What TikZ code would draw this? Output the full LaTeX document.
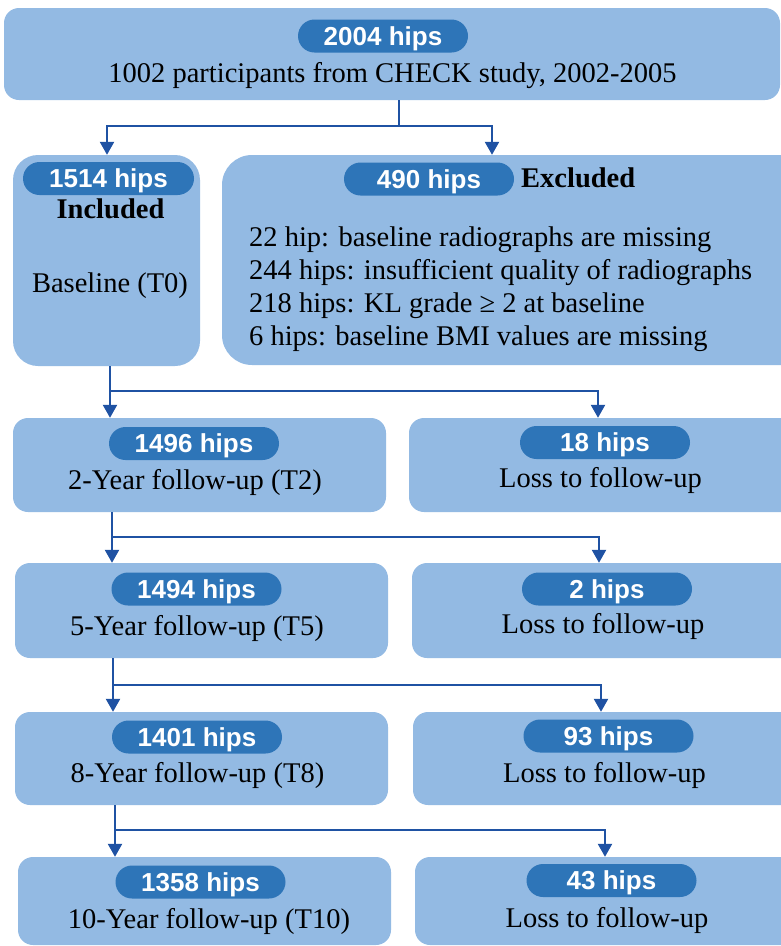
\documentclass[tikz,border=0pt]{standalone}
\usepackage{fontspec}
\setmainfont{Liberation Serif}
\setsansfont{Liberation Sans}
\usetikzlibrary{arrows.meta}

\definecolor{boxblue}{HTML}{93BAE3}
\definecolor{pillblue}{HTML}{2E75B8}
\definecolor{linkblue}{HTML}{1F52A3}

\tikzset{
  panel/.style={fill=boxblue, draw=none, rounded corners=15pt, inner sep=0pt},
  pill/.style={fill=pillblue, draw=none, rounded corners=16.5pt, minimum width=170pt,
    minimum height=33pt, inner sep=0pt, text=white, text depth=0pt,
    font=\sffamily\bfseries\fontsize{26}{28}\selectfont},
  txt/.style={inner sep=0pt, anchor=base, font=\fontsize{28.5}{33}\selectfont},
  txtl/.style={txt, anchor=base west},
  link/.style={draw=linkblue, line width=2.4pt},
  arr/.style={link, -{Triangle[width=14pt,length=13pt]}}
}

\begin{document}
\begin{tikzpicture}[x=1pt, y=-1pt]
\path[use as bounding box] (0,0) rectangle (781,946);
\clip (0,0) rectangle (781,946);

% ---- source population ----
\node[panel, minimum width=776pt, minimum height=92pt] (top) at (392,54) {};
\node[pill] (ptop) at (383,36) {2004 hips};
\node[txt] (ttop) at (392.5,82) {1002 participants from CHECK study, 2002-2005};

% ---- inclusion / exclusion ----
\node[panel, rounded corners=25pt, minimum width=187pt, minimum height=211pt] (inc) at (106.5,260.5) {};
\node[pill, minimum width=171pt] (pinc) at (108.5,178.5) {1514 hips};
\node[txt, font=\bfseries\fontsize{28.5}{33}\selectfont] (tinc) at (110.5,218) {Included};
\node[txt] (tbase) at (110,292) {Baseline (T0)};

\node[panel, rounded corners=30pt, minimum width=600pt, minimum height=210pt] (exc) at (522,260) {};
\node[pill] (pexc) at (429,179) {490 hips};
\node[txtl, font=\bfseries\fontsize{28.5}{33}\selectfont] (texc) at (521,187) {Excluded};
\node[txtl] (e1) at (249,246) {22 hip: baseline radiographs are missing};
\node[txtl] (e2) at (249,279) {244 hips: insufficient quality of radiographs};
\node[txtl] (e3) at (249,312) {218 hips: KL grade ≥ 2 at baseline};
\node[txtl] (e4) at (249,345) {6 hips: baseline BMI values are missing};

% ---- follow-up waves (left) and losses (right) ----
\node[panel, minimum width=373pt, minimum height=94pt] (t2) at (199.5,465) {};
\node[pill] (pt2) at (194,443.5) {1496 hips};
\node[txt] (tt2) at (195,489) {2-Year follow-up (T2)};
\node[panel, minimum width=400pt, minimum height=94pt] (l2) at (609,465) {};
\node[pill] (pl2) at (605,442.5) {18 hips};
\node[txt] (tl2) at (600.5,487) {Loss to follow-up};

\node[panel, minimum width=373pt, minimum height=95pt] (t5) at (201.5,610.5) {};
\node[pill] (pt5) at (196.5,589) {1494 hips};
\node[txt] (tt5) at (197,635) {5-Year follow-up (T5)};
\node[panel, minimum width=400pt, minimum height=95pt] (l5) at (612,610.5) {};
\node[pill] (pl5) at (607,589) {2 hips};
\node[txt] (tl5) at (603,633) {Loss to follow-up};

\node[panel, minimum width=373pt, minimum height=93pt] (t8) at (201.5,758.5) {};
\node[pill] (pt8) at (197,737) {1401 hips};
\node[txt] (tt8) at (197.5,782) {8-Year follow-up (T8)};
\node[panel, minimum width=400pt, minimum height=93pt] (l8) at (613,758.5) {};
\node[pill] (pl8) at (608.5,736) {93 hips};
\node[txt] (tl8) at (604.5,782) {Loss to follow-up};

\node[panel, minimum width=373pt, minimum height=88pt] (t10) at (204.5,901) {};
\node[pill] (pt10) at (200.5,882) {1358 hips};
\node[txt] (tt10) at (209,928) {10-Year follow-up (T10)};
\node[panel, minimum width=400pt, minimum height=88pt] (l10) at (615,901) {};
\node[pill] (pl10) at (611.5,880.5) {43 hips};
\node[txt] (tl10) at (607,927) {Loss to follow-up};

% ---- connectors ----
\coordinate (j0) at (399,126);
\coordinate (a0) at (107,126);
\coordinate (b0) at (492,126);
\draw[link] (top.south -| j0) -- (j0);
\draw[arr] (j0) -- (a0) -- (inc.north -| a0);
\draw[arr] (j0) -- (b0) -- (exc.north -| b0);

\coordinate (j1) at (110,391);
\coordinate (b1) at (598,391);
\draw[arr] (inc.south -| j1) -- (t2.north -| j1);
\draw[arr] (j1) -- (b1) -- (l2.north -| b1);

\coordinate (j2) at (112,537);
\coordinate (b2) at (599,537);
\draw[arr] (t2.south -| j2) -- (t5.north -| j2);
\draw[arr] (j2) -- (b2) -- (l5.north -| b2);

\coordinate (j3) at (113,685);
\coordinate (b3) at (601,685);
\draw[arr] (t5.south -| j3) -- (t8.north -| j3);
\draw[arr] (j3) -- (b3) -- (l8.north -| b3);

\coordinate (j4) at (115,830);
\coordinate (b4) at (605,830);
\draw[arr] (t8.south -| j4) -- (t10.north -| j4);
\draw[arr] (j4) -- (b4) -- (l10.north -| b4);
\end{tikzpicture}
\end{document}
